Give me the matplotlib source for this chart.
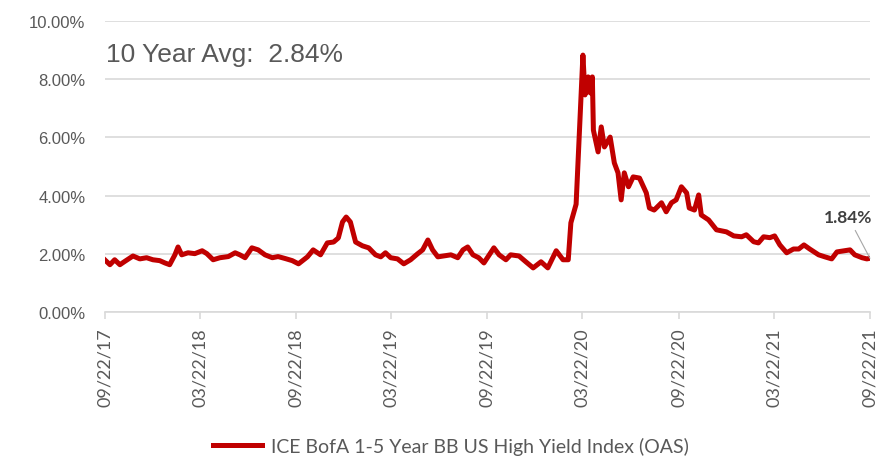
import matplotlib
matplotlib.use("Agg")
import matplotlib.pyplot as plt
import matplotlib.dates as mdates
from matplotlib.ticker import FuncFormatter, MultipleLocator
import pandas as pd

# ICE BofA 1-5 Year BB US High Yield Index OAS (%)
dates = [
    "2017-09-22", "2017-10-02", "2017-10-11", "2017-10-21", "2017-10-30", "2017-11-15",
    "2017-11-28", "2017-12-11", "2017-12-23", "2018-01-05", "2018-01-15", "2018-01-24",
    "2018-02-03", "2018-02-09", "2018-02-16", "2018-02-28", "2018-03-13", "2018-03-27",
    "2018-04-05", "2018-04-17", "2018-04-30", "2018-05-16", "2018-05-29", "2018-06-07",
    "2018-06-17", "2018-06-30", "2018-07-12", "2018-07-25", "2018-08-08", "2018-08-19",
    "2018-09-02", "2018-09-15", "2018-09-27", "2018-10-14", "2018-10-25", "2018-11-08",
    "2018-11-21", "2018-12-03", "2018-12-12", "2018-12-20", "2018-12-27", "2019-01-04",
    "2019-01-14", "2019-01-27", "2019-02-08", "2019-02-21", "2019-03-03", "2019-03-12",
    "2019-03-22", "2019-04-04", "2019-04-16", "2019-04-29", "2019-05-12", "2019-05-22",
    "2019-06-01", "2019-06-10", "2019-06-20", "2019-07-01", "2019-07-15", "2019-07-28",
    "2019-08-07", "2019-08-16", "2019-08-26", "2019-09-06", "2019-09-16", "2019-10-05",
    "2019-10-15", "2019-10-28", "2019-11-06", "2019-11-22", "2019-12-05", "2019-12-19",
    "2020-01-03", "2020-01-16", "2020-02-01", "2020-02-14", "2020-02-24", "2020-02-29",
    "2020-03-10", "2020-03-23", "2020-03-27", "2020-04-02", "2020-04-06", "2020-04-10",
    "2020-04-12", "2020-04-21", "2020-04-27", "2020-05-03", "2020-05-14", "2020-05-22",
    "2020-05-29", "2020-06-04", "2020-06-10", "2020-06-18", "2020-06-27", "2020-07-09",
    "2020-07-22", "2020-07-28", "2020-08-06", "2020-08-20", "2020-08-29", "2020-09-08",
    "2020-09-17", "2020-09-27", "2020-10-07", "2020-10-12", "2020-10-22", "2020-10-30",
    "2020-11-04", "2020-11-18", "2020-12-03", "2020-12-22", "2021-01-05", "2021-01-20",
    "2021-01-29", "2021-02-12", "2021-02-21", "2021-03-03", "2021-03-15", "2021-03-24",
    "2021-04-03", "2021-04-16", "2021-04-29", "2021-05-09", "2021-05-19", "2021-05-30",
    "2021-06-16", "2021-06-28", "2021-07-11", "2021-07-21", "2021-08-05", "2021-08-15",
    "2021-08-24", "2021-09-07", "2021-09-16", "2021-09-22",
]
oas = [
    1.79, 1.62, 1.79, 1.62, 1.73, 1.92,
    1.82, 1.86, 1.79, 1.76, 1.68, 1.62,
    1.96, 2.23, 1.96, 2.03, 2.00, 2.10,
    2.00, 1.79, 1.86, 1.90, 2.03, 1.96,
    1.86, 2.20, 2.13, 1.96, 1.86, 1.90,
    1.83, 1.76, 1.65, 1.89, 2.13, 1.96,
    2.37, 2.40, 2.54, 3.09, 3.26, 3.09,
    2.40, 2.27, 2.20, 1.96, 1.89, 2.03,
    1.86, 1.82, 1.65, 1.79, 1.99, 2.13,
    2.47, 2.13, 1.89, 1.92, 1.96, 1.86,
    2.13, 2.23, 1.96, 1.86, 1.68, 2.20,
    1.96, 1.79, 1.96, 1.92, 1.72, 1.51,
    1.72, 1.51, 2.10, 1.79, 1.79, 3.06,
    3.70, 8.83, 7.46, 8.08, 7.53, 8.08,
    6.25, 5.50, 6.36, 5.67, 6.01, 5.12,
    4.78, 3.85, 4.78, 4.30, 4.64, 4.60,
    4.09, 3.57, 3.50, 3.75, 3.44, 3.75,
    3.85, 4.30, 4.09, 3.57, 3.50, 4.02,
    3.33, 3.16, 2.82, 2.75, 2.61, 2.58,
    2.65, 2.41, 2.37, 2.58, 2.55, 2.61,
    2.30, 2.03, 2.16, 2.16, 2.30, 2.16,
    1.96, 1.89, 1.82, 2.06, 2.10, 2.13,
    1.96, 1.86, 1.82, 1.84,
]
tick_dates = ["2017-09-22", "2018-03-22", "2018-09-22", "2019-03-22", "2019-09-22",
              "2020-03-22", "2020-09-22", "2021-03-22", "2021-09-22"]
avg_10y = 2.84
last_value = 1.84
series_name = "ICE BofA 1-5 Year BB US High Yield Index (OAS)"

x = pd.to_datetime(dates)
y = [v / 100 for v in oas]
ticks = pd.to_datetime(tick_dates)

fig = plt.figure(figsize=(8.95, 4.6), dpi=100)
ax = fig.add_axes([0.117, 0.320, 0.855, 0.632])

line, = ax.plot(x, y, color="#C00000", lw=3.6, solid_joinstyle="round",
                label=series_name)

ax.set_ylim(0, 0.10)
ax.yaxis.set_major_locator(MultipleLocator(0.02))
ax.yaxis.set_major_formatter(FuncFormatter(lambda v, p: "%.2f%%" % (v * 100)))
ax.set_xlim(ticks[0], ticks[-1])
ax.set_xticks(ticks)
ax.xaxis.set_major_formatter(mdates.DateFormatter("%m/%d/%y"))

ax.grid(axis="y", color="#D9D9D9", lw=1.2)
ax.set_axisbelow(True)
for s in ["left", "right", "top"]:
    ax.spines[s].set_visible(False)
ax.spines["bottom"].set_color("#D9D9D9")
ax.spines["bottom"].set_linewidth(1.2)
ax.tick_params(axis="y", length=0, pad=14, labelsize=12, labelcolor="#595959")
ax.tick_params(axis="x", length=5, color="#D9D9D9", width=1.2, pad=6,
               labelsize=13, labelcolor="#595959", labelrotation=90)
for lab in ax.get_yticklabels():
    lab.set_family("Liberation Sans")
for lab in ax.get_xticklabels():
    lab.set_family("Lato")

ax.text(0.002, 0.888, "10 Year Avg:  %.2f%%" % avg_10y, transform=ax.transAxes,
        fontsize=19, color="#595959", family="Liberation Sans", va="center")

ax.annotate("%.2f%%" % last_value, xy=(x[-1], last_value / 100),
            xytext=(-33, 26), textcoords="offset points",
            fontsize=12.5, fontweight="bold", color="#404040", family="Lato",
            arrowprops=dict(arrowstyle="-", color="#A6A6A6", lw=0.8,
                            shrinkA=2, shrinkB=0))

fig.legend(handles=[line], loc="center", bbox_to_anchor=(0.504, 0.028),
           frameon=False, prop={"family": "Lato", "size": 14},
           handlelength=2.5, handletextpad=0.5, labelcolor="#595959")

fig.savefig("out.png", dpi=100)
